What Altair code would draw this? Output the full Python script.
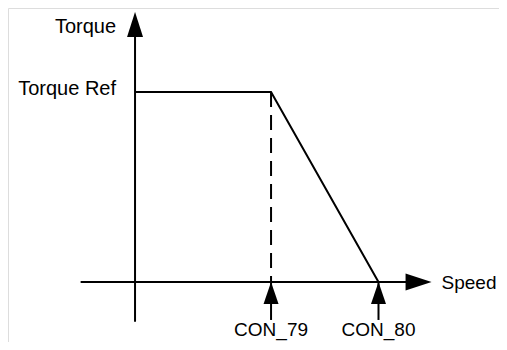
import altair as alt
import pandas as pd

# Data (speed in units of CON_79, torque in units of Torque Ref)
speed_points = [0.0, 1.0, 1.79]       # origin, CON_79, CON_80
torque_points = [1.0, 1.0, 0.0]       # torque curve
marker_labels = ["CON_79", "CON_80"]
marker_speeds = [1.0, 1.79]
axis_labels = ["Torque", "Torque Ref"]
axis_label_t = [1.326, 1.0]

x_axis_ext = [-0.40, 2.18]
y_axis_ext = [-0.21, 1.421]

W, H = 491, 334
xs = alt.Scale(domain=[-0.934, 2.676], nice=False, zero=False)
ys = alt.Scale(domain=[-0.316, 1.442], nice=False, zero=False)
X = lambda f: alt.X(f, type="quantitative", scale=xs, axis=None)
Y = lambda f: alt.Y(f, type="quantitative", scale=ys, axis=None)

FONT = "Liberation Sans"
FS = 20
FS2 = 19

curve = pd.DataFrame({"s": speed_points, "t": torque_points})
line = alt.Chart(curve).mark_line(color="black", strokeWidth=2).encode(
    x=X("s"), y=Y("t"), order="s:Q")

dash = alt.Chart(pd.DataFrame({"s": [marker_speeds[0]], "t0": [0.0], "t1": [torque_points[1]]})).mark_rule(
    color="black", strokeWidth=2, strokeDash=[15, 8]).encode(x=X("s"), y=Y("t1"), y2="t0")

xaxis = alt.Chart(pd.DataFrame({"a": [x_axis_ext[0]], "b": [x_axis_ext[1] - 0.18], "t": [0.0]})).mark_rule(
    color="black", strokeWidth=2).encode(x=X("a"), x2="b", y=Y("t"))
yaxis = alt.Chart(pd.DataFrame({"s": [0.0], "a": [y_axis_ext[0]], "b": [y_axis_ext[1] - 0.12]})).mark_rule(
    color="black", strokeWidth=2).encode(x=X("s"), y=Y("a"), y2="b")

up_shape = "M0,0L-8,25L8,25Z"
marker_shape = "M0,0L-7.5,22L7.5,22Z"
right_shape = "M0,0L-26,-8.5L-26,8.5Z"

yarrow = alt.Chart(pd.DataFrame({"s": [0.0], "t": [y_axis_ext[1]]})).mark_point(
    shape=up_shape, size=4, filled=True, color="black", opacity=1).encode(x=X("s"), y=Y("t"))
xarrow = alt.Chart(pd.DataFrame({"s": [x_axis_ext[1]], "t": [0.0]})).mark_point(
    shape=right_shape, size=4, filled=True, color="black", opacity=1).encode(x=X("s"), y=Y("t"))

markers = pd.DataFrame({"s": marker_speeds, "label": marker_labels, "t": [0.0, 0.0], "b": [-0.2, -0.2]})
mshaft = alt.Chart(markers).mark_rule(color="black", strokeWidth=2).encode(x=X("s"), y=Y("b"), y2="t")
marrow = alt.Chart(markers).mark_point(
    shape=marker_shape, size=4, filled=True, color="black", opacity=1).encode(x=X("s"), y=Y("t"))
mtext = alt.Chart(markers).mark_text(font=FONT, fontSize=FS2, baseline="alphabetic", dy=16, color="black").encode(
    x=X("s"), y=Y("b"), text="label")

labels = pd.DataFrame({"s": [0.0, 0.0], "t": axis_label_t, "label": axis_labels})
ltext = alt.Chart(labels).mark_text(font=FONT, fontSize=FS, align="right", baseline="alphabetic", dx=-19, dy=3,
                                    color="black").encode(x=X("s"), y=Y("t"), text="label")
stext = alt.Chart(pd.DataFrame({"s": [x_axis_ext[1]], "t": [0.0], "label": ["Speed"]})).mark_text(
    font=FONT, fontSize=FS2, align="left", baseline="alphabetic", dx=10, dy=7, color="black").encode(
    x=X("s"), y=Y("t"), text="label")

chart = alt.layer(xaxis, yaxis, dash, line, yarrow, xarrow, mshaft, marrow, mtext, ltext, stext).properties(
    width=W, height=H, padding=0, autosize=alt.AutoSizeParams(type="none")
).configure_view(stroke=None).configure(background="white")

chart.save("out.html", embed_options={"renderer": "svg", "actions": False})
